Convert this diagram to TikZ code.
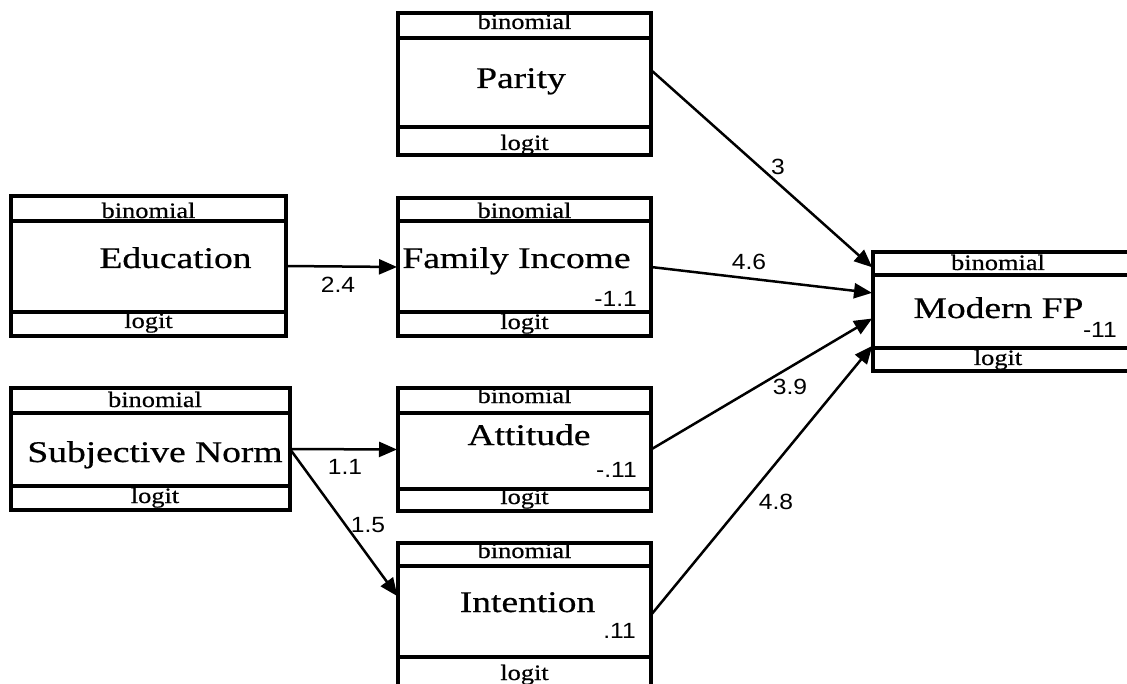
\documentclass[tikz,border=0pt]{standalone}
\usepackage{fontspec}
\usetikzlibrary{arrows.meta}
\newfontfamily\namefont[FakeStretch=1.25,FakeBold=0.6]{Liberation Serif}
\newfontfamily\stripfont[FakeStretch=1.2,FakeBold=0.5]{Liberation Serif}
\newfontfamily\numfont[FakeStretch=1.12]{Liberation Sans}
\begin{document}
\begin{tikzpicture}[x=1pt,y=-1pt,
 box/.style={draw, line width=4pt, inner sep=0pt, outer sep=0pt},
 sepline/.style={line width=4pt},
 nm/.style={anchor=base, inner sep=0pt, font=\namefont\fontsize{30}{30}\selectfont},
 strip/.style={anchor=base, inner sep=0pt, font=\stripfont\fontsize{22}{22}\selectfont},
 num/.style={anchor=base east, inner sep=0pt, font=\numfont\fontsize{22}{22}\selectfont},
 elab/.style={inner sep=0pt, font=\numfont\fontsize{22}{22}\selectfont},
 arr/.style={line width=2.5pt, shorten >=1pt, -{Triangle[length=18pt,width=15pt]}}]
\useasboundingbox (0,0) rectangle (1127,684);
\fill[white] (0,0) rectangle (1127,684);
\clip (0,0) rectangle (1127,684);

% ---- texts (drawn first so that borders lie on top)
% Parity
\node[strip] (tParB) at (524.5,29) {binomial};
\node[nm] (tPar) at (521,88) {Parity};
\node[strip] (tParL) at (524.5,150) {logit};
% Education
\node[strip] (tEduB) at (148.5,218) {binomial};
\node[nm] (tEdu) at (175.5,268) {Education};
\node[strip] (tEduL) at (148.5,328) {logit};
% Family Income
\node[strip] (tFiB) at (524.5,218) {binomial};
\node[nm] (tFi) at (516.5,268) {Family Income};
\node[num] (nFi) at (637,307) {-1.1};
\node[strip] (tFiL) at (524.5,329) {logit};
% Modern FP
\node[strip] (tMfB) at (998,270) {binomial};
\node[nm] (tMf) at (998.5,318) {Modern FP};
\node[num] (nMf) at (1117,338) {-11};
\node[strip] (tMfL) at (998,365) {logit};
% Subjective Norm
\node[strip] (tSnB) at (155,407) {binomial};
\node[nm] (tSn) at (155,462) {Subjective Norm};
\node[strip] (tSnL) at (155,503) {logit};
% Attitude
\node[strip] (tAtB) at (524.5,403) {binomial};
\node[nm] (tAt) at (529,445) {Attitude};
\node[num] (nAt) at (637,477) {-.11};
\node[strip] (tAtL) at (524.5,504) {logit};
% Intention
\node[strip] (tInB) at (524.5,558) {binomial};
\node[nm] (tIn) at (527.5,612) {Intention};
\node[num] (nIn) at (636,638) {.11};
\node[strip] (tInL) at (524.5,680) {logit};

% ---- boxes
\node[box, minimum width=253pt, minimum height=142pt] (par) at (524.5,84) {};
\draw[sepline] (par.west |- 0,38) -- (par.east |- 0,38);
\draw[sepline] (par.west |- 0,127) -- (par.east |- 0,127);

\node[box, minimum width=275pt, minimum height=140pt] (edu) at (148.5,266) {};
\draw[sepline] (edu.west |- 0,221) -- (edu.east |- 0,221);
\draw[sepline] (edu.west |- 0,312) -- (edu.east |- 0,312);

\node[box, minimum width=253pt, minimum height=138pt] (fi) at (524.5,267) {};
\draw[sepline] (fi.west |- 0,221) -- (fi.east |- 0,221);
\draw[sepline] (fi.west |- 0,312) -- (fi.east |- 0,312);

\node[box, minimum width=257pt, minimum height=119pt] (mfp) at (1001.5,311.5) {};
\draw[sepline] (mfp.west |- 0,275) -- (mfp.east |- 0,275);
\draw[sepline] (mfp.west |- 0,348) -- (mfp.east |- 0,348);

\node[box, minimum width=279pt, minimum height=122pt] (sn) at (150.5,449) {};
\draw[sepline] (sn.west |- 0,413) -- (sn.east |- 0,413);
\draw[sepline] (sn.west |- 0,486) -- (sn.east |- 0,486);

\node[box, minimum width=253pt, minimum height=123pt] (att) at (524.5,449.5) {};
\draw[sepline] (att.west |- 0,413) -- (att.east |- 0,413);
\draw[sepline] (att.west |- 0,489) -- (att.east |- 0,489);

\node[box, minimum width=253pt, minimum height=147pt] (int) at (524.5,616.5) {};
\draw[sepline] (int.west |- 0,566) -- (int.east |- 0,566);
\draw[sepline] (int.west |- 0,657) -- (int.east |- 0,657);

% ---- connectors
\draw[arr] ([yshift=14pt]par.east) -- ([yshift=43.5pt]mfp.west);
\draw[arr] (fi.east) -- ([yshift=18.5pt]mfp.west);
\draw[arr] (att.east) -- ([yshift=-6.5pt]mfp.west);
\draw[arr] ([yshift=1.5pt]int.east) -- ([yshift=-33.5pt]mfp.west);
\draw[arr] (edu.east) -- (fi.west);
\draw[arr] (sn.east) -- (att.west);
\draw[arr] (sn.east) -- ([yshift=19.5pt]int.west);

% ---- edge labels
\node[elab] (l3) at (778,167) {3};
\node[elab] (l46) at (749,262) {4.6};
\node[elab] (l39) at (790,387) {3.9};
\node[elab] (l48) at (776,502) {4.8};
\node[elab] (l24) at (338,285) {2.4};
\node[elab] (l11) at (345,467) {1.1};
\node[elab] (l15) at (368,525) {1.5};
\end{tikzpicture}
\end{document}
